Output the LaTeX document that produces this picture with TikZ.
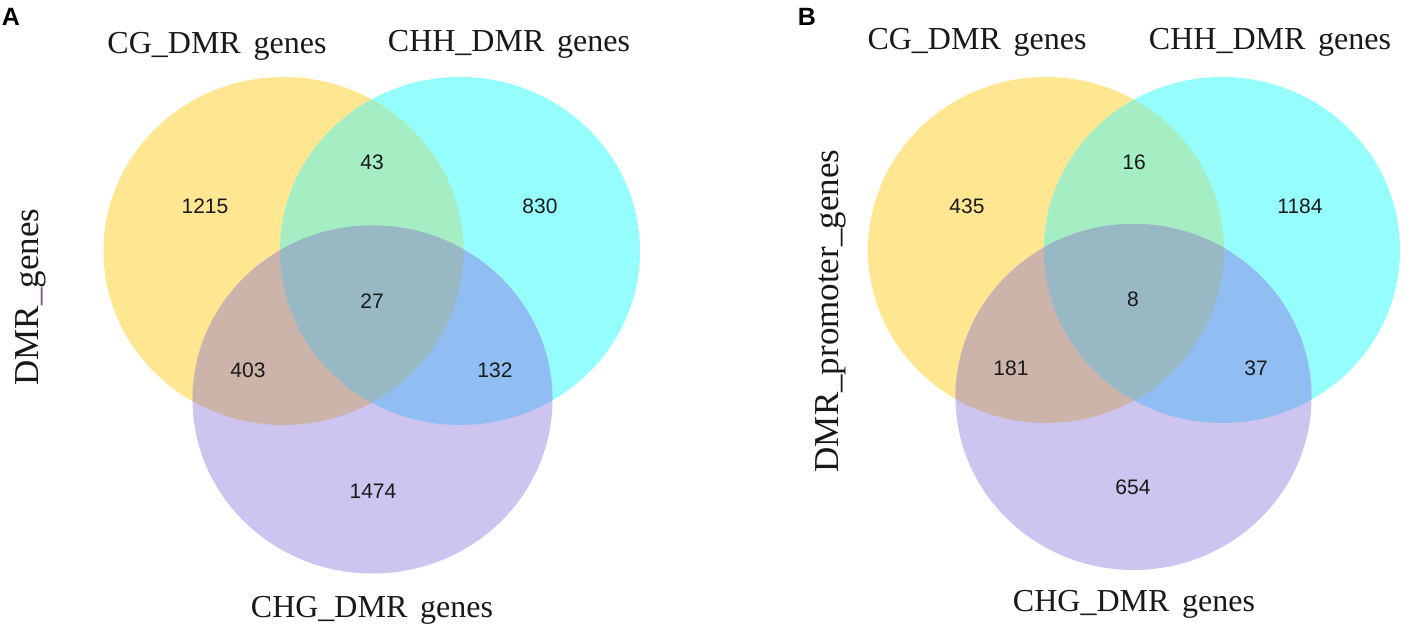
\documentclass[tikz,border=0pt]{standalone}
\usepackage{fontspec}
\setmainfont{Liberation Serif}
\newfontfamily\numfont{Liberation Sans}
\definecolor{Yonly}{RGB}{255,230,145}
\definecolor{Conly}{RGB}{150,253,253}
\definecolor{Ponly}{RGB}{206,196,240}
\definecolor{YCcol}{RGB}{165,238,195}
\definecolor{YPcol}{RGB}{205,180,170}
\definecolor{CPcol}{RGB}{145,190,242}
\definecolor{YCPcol}{RGB}{152,185,195}
\definecolor{uscol}{RGB}{120,80,130}
\newcommand\myvenn[8]{%
  \fill[Yonly] (#1,#2) ellipse [x radius=#7pt, y radius=#8pt];
  \fill[Conly] (#3,#4) ellipse [x radius=#7pt, y radius=#8pt];
  \fill[Ponly] (#5,#6) ellipse [x radius=#7pt, y radius=#8pt];
  \begin{scope}
    \clip (#1,#2) ellipse [x radius=#7pt, y radius=#8pt];
    \fill[YCcol] (#3,#4) ellipse [x radius=#7pt, y radius=#8pt];
    \fill[YPcol] (#5,#6) ellipse [x radius=#7pt, y radius=#8pt];
  \end{scope}
  \begin{scope}
    \clip (#3,#4) ellipse [x radius=#7pt, y radius=#8pt];
    \fill[CPcol] (#5,#6) ellipse [x radius=#7pt, y radius=#8pt];
  \end{scope}
  \begin{scope}
    \clip (#1,#2) ellipse [x radius=#7pt, y radius=#8pt];
    \clip (#3,#4) ellipse [x radius=#7pt, y radius=#8pt];
    \fill[YCPcol] (#5,#6) ellipse [x radius=#7pt, y radius=#8pt];
  \end{scope}
}
\tikzset{
  settitle/.style={font=\fontsize{32}{36}\selectfont, anchor=base, inner sep=0pt, text=black!90},
  setnum/.style={font=\numfont\fontsize{21}{24}\selectfont, inner sep=0pt, text=black!90},
  panellabel/.style={font=\numfont\bfseries\fontsize{25}{28}\selectfont, inner sep=0pt},
  axislabel/.style={font=\fontsize{35}{40}\selectfont, rotate=90, anchor=base, inner sep=0pt, text=black!90}
}
\begin{document}
\begin{tikzpicture}[x=1pt,y=-1pt]
\useasboundingbox (0,0) rectangle (1413,634);
% Panel A
\myvenn{283.5}{251}{460}{251}{372.5}{399.5}{180}{174}
\node[panellabel] (labA) at (11,17) {A};
\node[settitle] (cgA) at (217,54) {CG\_DMR\hspace{0.4em}genes};
\node[settitle] (chhA) at (509,52) {CHH\_DMR\hspace{0.4em}genes};
\node[settitle] (chgA) at (372,617) {CHG\_DMR\hspace{0.4em}genes};
\node[axislabel] (axA) at (38,297) {DMR\textcolor{uscol}{\_}genes};
\node[setnum] (a1) at (205,206) {1215};
\node[setnum] (a2) at (372,162) {43};
\node[setnum] (a3) at (540,206) {830};
\node[setnum] (a4) at (372,301) {27};
\node[setnum] (a5) at (248,370) {403};
\node[setnum] (a6) at (495,370) {132};
\node[setnum] (a7) at (373,491) {1474};
% Panel B
\myvenn{1046}{250}{1222}{250}{1133.5}{397}{178}{173}
\node[panellabel] (labB) at (807,17) {B};
\node[settitle] (cgB) at (977,49) {CG\_DMR\hspace{0.4em}genes};
\node[settitle] (chhB) at (1270,49) {CHH\_DMR\hspace{0.4em}genes};
\node[settitle] (chgB) at (1134,611) {CHG\_DMR\hspace{0.4em}genes};
\node[axislabel] (axB) at (838,311) {DMR\_promoter\_genes};
\node[setnum] (b1) at (967,206) {435};
\node[setnum] (b2) at (1134,162) {16};
\node[setnum] (b3) at (1300,206) {1184};
\node[setnum] (b4) at (1133,299) {8};
\node[setnum] (b5) at (1011,368) {181};
\node[setnum] (b6) at (1256,368) {37};
\node[setnum] (b7) at (1133,487) {654};
\end{tikzpicture}
\end{document}
